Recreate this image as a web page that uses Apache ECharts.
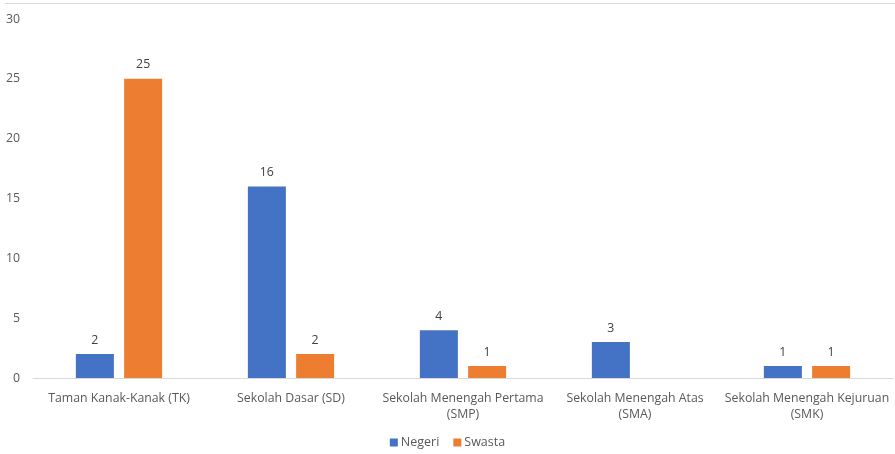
<!DOCTYPE html>
<html>
<head>
<meta charset="utf-8">
<script src="https://cdn.jsdelivr.net/npm/echarts@6/dist/echarts.min.js"></script>
<style>html,body{margin:0;padding:0;background:#fff}#c{width:895px;height:454px}</style>
</head>
<body>
<div id="c"></div>
<script>
const categories = [
  'Taman Kanak-Kanak (TK)',
  'Sekolah Dasar (SD)',
  'Sekolah Menengah Pertama\n(SMP)',
  'Sekolah Menengah Atas\n(SMA)',
  'Sekolah Menengah Kejuruan\n(SMK)'
];
const negeri = [2, 16, 4, 3, 1];
const swasta = [25, 2, 1, null, 1];
const yTicks = { min: 0, max: 30, interval: 5 };

const chart = echarts.init(document.getElementById('c'));
const font = '"Open Sans", "Noto Sans", sans-serif';
chart.setOption({
  animation: false,
  textStyle: { fontFamily: font },
  grid: { left: 33, right: 2, top: 19, bottom: 76, containLabel: false },
  graphic: [{
    type: 'line', shape: { x1: 5, y1: 3.5, x2: 895, y2: 3.5 },
    style: { stroke: '#d9d9d9', lineWidth: 1 }
  }],
  legend: {
    bottom: 0, left: 'center', itemWidth: 8, itemHeight: 8, itemGap: 14,
    icon: 'rect',
    textStyle: { color: '#595959', fontSize: 12.5, fontFamily: font, padding: [0, 0, 0, -2] },
    data: ['Negeri', 'Swasta']
  },
  xAxis: {
    type: 'category', data: categories,
    axisLine: { lineStyle: { color: '#d9d9d9', width: 1 } },
    axisTick: { show: false },
    axisLabel: { color: '#595959', fontSize: 12.3, margin: 12, lineHeight: 16, interval: 0 }
  },
  yAxis: {
    type: 'value', min: yTicks.min, max: yTicks.max, interval: yTicks.interval,
    axisLine: { show: false }, axisTick: { show: false }, splitLine: { show: false },
    axisLabel: { color: '#595959', fontSize: 12.3, margin: 13 }
  },
  series: [
    {
      name: 'Negeri', type: 'bar', data: negeri, barWidth: 38, barGap: '27%',
      itemStyle: { color: '#4472C4' },
      label: { show: true, position: 'top', distance: 8, color: '#404040', fontSize: 12.3 }
    },
    {
      name: 'Swasta', type: 'bar', data: swasta, barWidth: 38,
      itemStyle: { color: '#ED7D31' },
      label: { show: true, position: 'top', distance: 8, color: '#404040', fontSize: 12.3 }
    }
  ]
});
</script>
</body>
</html>
